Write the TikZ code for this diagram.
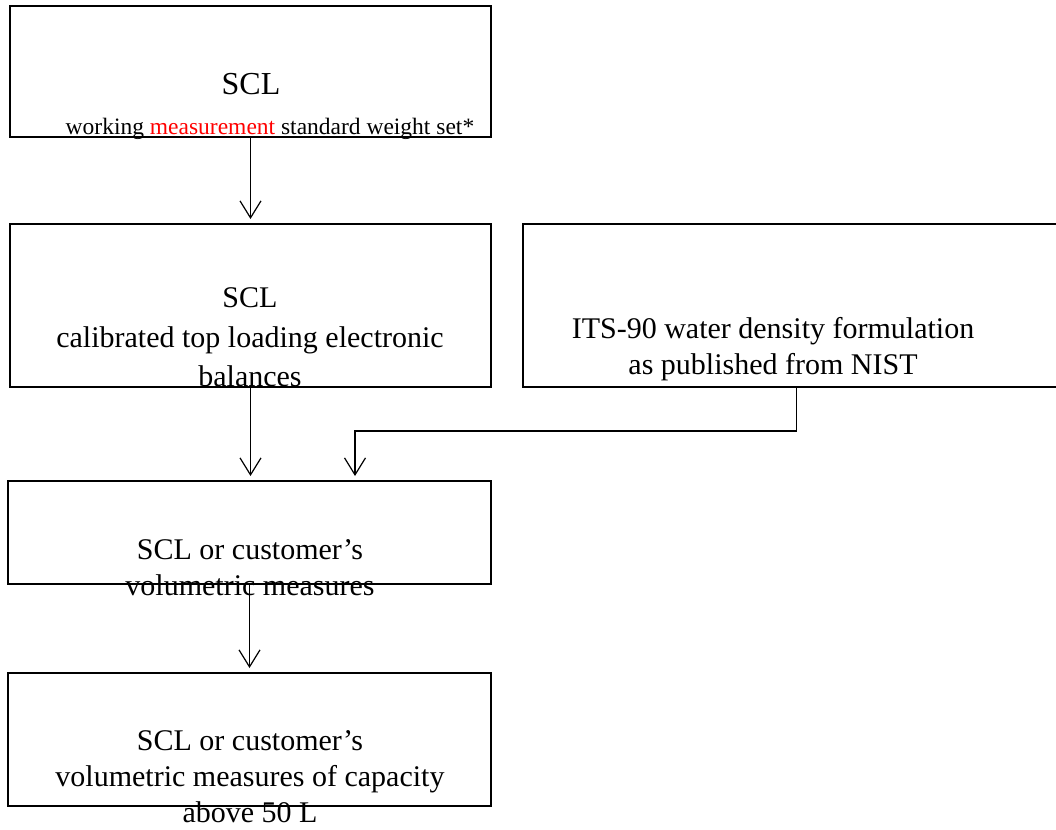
\documentclass[tikz,border=0pt]{standalone}
\usepackage{fontspec}
\setmainfont{Liberation Serif}
\usetikzlibrary{arrows.meta}
\begin{document}
\begin{tikzpicture}[x=1pt,y=-1pt,
  box/.style={draw=black,line width=1.3pt,inner sep=0pt,outer sep=0pt},
  txt/.style={anchor=base,inner sep=0pt,font=\fontsize{30}{35}\selectfont},
  small/.style={anchor=base,inner sep=0pt,font=\fontsize{23.5}{26}\selectfont},
  arr/.style={line width=1.2pt,-{Straight Barb[length=17pt,width=21pt,line width=1.2pt]},shorten >=5pt}]
\useasboundingbox (0,0) rectangle (1056,829);
\clip (0,0) rectangle (1056,829);
\fill[white] (0,0) rectangle (1056,829);
% boxes
\node[box,minimum width=481pt,minimum height=131pt] (b1) at (250.5,71.5) {};
\node[box,minimum width=481pt,minimum height=163pt] (b2) at (250.5,305.5) {};
\node[box,minimum width=547pt,minimum height=163pt] (b3) at (796.5,305.5) {};
\node[box,minimum width=483pt,minimum height=103pt] (b4) at (249.5,532.5) {};
\node[box,minimum width=483pt,minimum height=133pt] (b5) at (249.5,739.5) {};
% texts
\node[txt,font=\fontsize{32}{36}\selectfont] (t1a) at (251,95) {SCL};
\node[small] (t1b) at (270,135) {working \textcolor{red}{measurement} standard weight set*};
\node[txt] (t2a) at (250,307) {SCL};
\node[txt] (t2b) at (250,347) {calibrated top loading electronic};
\node[txt] (t2c) at (250,386) {balances};
\node[txt] (t3a) at (773,338) {ITS-90 water density formulation};
\node[txt] (t3b) at (773,374) {as published from NIST};
\node[txt] (t4a) at (250,559) {SCL or customer’s};
\node[txt] (t4b) at (250,595) {volumetric measures};
\node[txt] (t5a) at (250,750) {SCL or customer’s};
\node[txt] (t5b) at (250,786) {volumetric measures of capacity};
\node[txt] (t5c) at (250,822) {above 50 L};
% connectors
\coordinate (j) at (355,431);
\draw[arr] (b1.south) -- (b1.south |- b2.north);
\draw[arr] (b2.south) -- (b2.south |- b4.north);
\draw[arr] (b3.south) |- (j) -- (j |- b4.north);
\draw[arr] (b4.south) -- (b4.south |- b5.north);
\end{tikzpicture}
\end{document}
